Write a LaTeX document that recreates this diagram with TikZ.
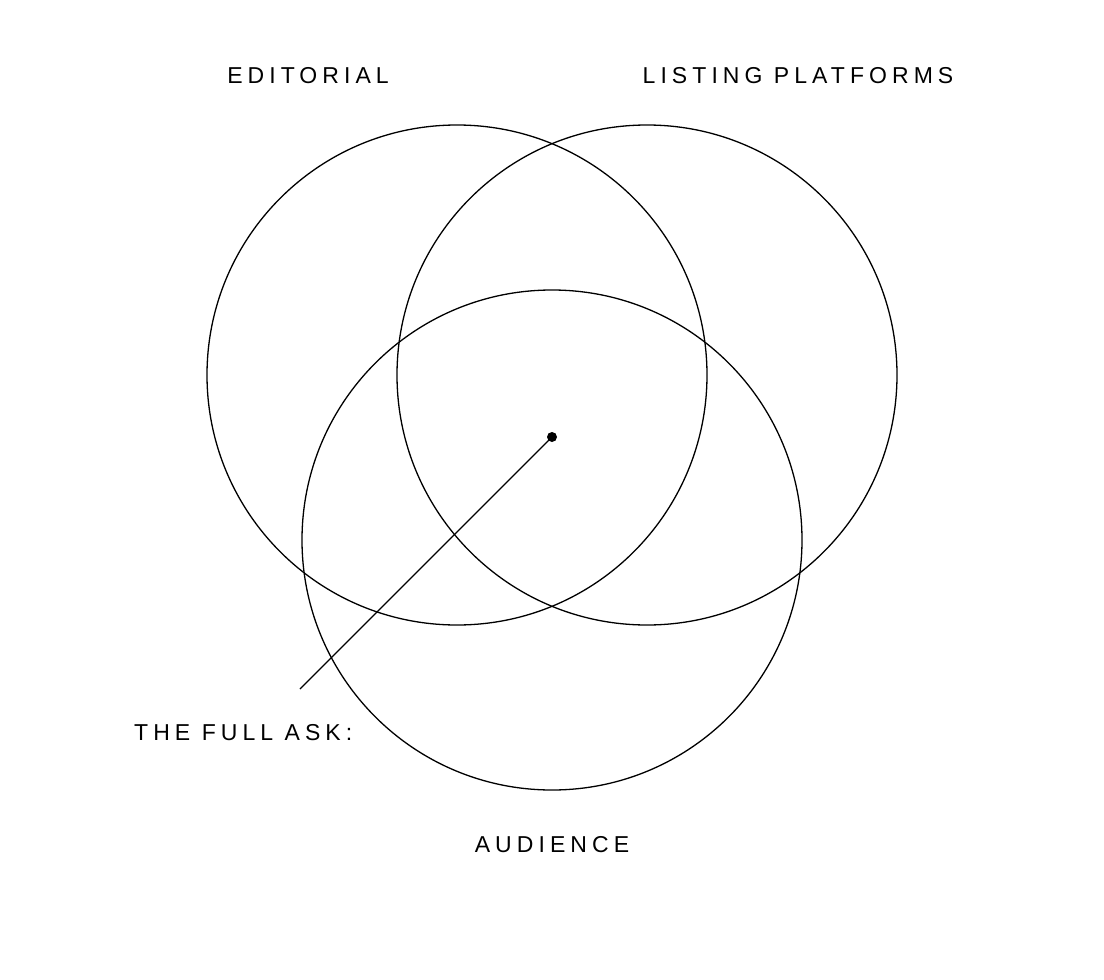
\documentclass[tikz,border=0pt]{standalone}
\usepackage{fontspec}
\setmainfont{Liberation Sans}[LetterSpace=22]
\begin{document}
\begin{tikzpicture}[x=1pt,y=-1pt,
  ring/.style={draw=black,line width=1.3pt},
  lbl/.style={font=\fontsize{23}{27}\selectfont,inner sep=0pt}]
\useasboundingbox (0,0) rectangle (1104,980);
\draw[ring] (457,375) circle (250);
\draw[ring] (647,375) circle (250);
\draw[ring] (552,540) circle (250);
\node[lbl] (ed) at (308,76) {EDITORIAL};
\node[lbl] (lp) at (798,76) {LISTING PLATFORMS};
\node[lbl] (au) at (552,845) {AUDIENCE};
\node[lbl,anchor=west] (fa) at (134,733) {THE FULL ASK:};
\node[circle,fill=black,inner sep=0pt,minimum size=10pt] (dot) at (552,437) {};
\coordinate (end) at (300,689);
\draw[line width=1.3pt] (dot.center) -- (end);
\end{tikzpicture}
\end{document}
